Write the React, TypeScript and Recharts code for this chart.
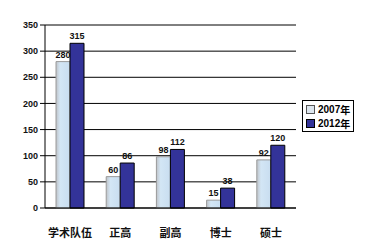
import React from 'react';
import { BarChart, Bar, XAxis, YAxis, CartesianGrid, LabelList } from 'recharts';

const categories = ['学术队伍', '正高', '副高', '博士', '硕士'];
const values2007 = [280, 60, 98, 15, 92];
const values2012 = [315, 86, 112, 38, 120];
const yTicks = [0, 50, 100, 150, 200, 250, 300, 350];
const boundaryTicks = [0, 1, 2, 3, 4, 5];

const data = categories.map((name, i) => ({
  name,
  y2007: values2007[i],
  y2012: values2012[i],
}));

const numFont = '"Liberation Sans", Arial, sans-serif';
const cjkFont = '"Noto Sans CJK SC", sans-serif';

function CategoryTick(props: any) {
  const { x, y, payload } = props;
  return (
    <text x={x} y={y + 21} textAnchor="middle" fontSize={11} fontWeight="bold" fontFamily={cjkFont} fill="#111">
      {payload.value}
    </text>
  );
}

// small upward tick marks between categories, like Excel draws them
function BoundaryTick(props: any) {
  const { x, y } = props;
  return <line x1={x} x2={x} y1={y} y2={y - 4} stroke="#000" strokeWidth={1} />;
}

function LegendBox() {
  const item = (label: string, fill: string, stroke: string) => (
    <div style={{ display: 'flex', alignItems: 'center', height: 14, whiteSpace: 'nowrap' }}>
      <span style={{ display: 'inline-block', width: 7, height: 7, background: fill, border: `1px solid ${stroke}`, marginRight: 3, flexShrink: 0 }} />
      <span style={{ fontFamily: numFont }}>{label.slice(0, 4)}</span>
      <span style={{ fontFamily: cjkFont, fontSize: 10 }}>{label.slice(4)}</span>
    </div>
  );
  return (
    <div
      style={{
        border: '1px solid #000',
        padding: '1px 3px',
        fontSize: 10,
        fontWeight: 'bold',
        background: '#fff',
        width: 44,
      }}
    >
      {item('2007年', '#dde6ee', '#555')}
      {item('2012年', '#333399', '#000')}
    </div>
  );
}

export default function App() {
  return (
    <div style={{ position: 'absolute', left: 0, top: 0, width: 370, height: 246, background: '#fff' }}>
      <BarChart
        width={370}
        height={246}
        data={data}
        margin={{ top: 25, right: 74, left: 0, bottom: 0 }}
        barSize={14}
        barGap={0}
      >
        <defs>
          <linearGradient id="lightBar" x1="0" y1="0" x2="1" y2="0">
            <stop offset="0%" stopColor="#bfc3c8" />
            <stop offset="30%" stopColor="#d3e6f5" />
            <stop offset="100%" stopColor="#c8ddf0" />
          </linearGradient>
        </defs>
        <CartesianGrid vertical={false} stroke="#000" />
        <XAxis
          xAxisId="cat"
          dataKey="name"
          height={38}
          axisLine={{ stroke: '#000' }}
          tickLine={false}
          tick={<CategoryTick />}
          interval={0}
        />
        <XAxis
          xAxisId="bound"
          type="number"
          domain={[0, 5]}
          ticks={boundaryTicks}
          interval={0}
          height={0}
          axisLine={false}
          tickLine={false}
          tickSize={0}
          tickMargin={0}
          tick={<BoundaryTick />}
        />
        <YAxis
          width={45}
          domain={[0, 350]}
          ticks={yTicks}
          interval={0}
          axisLine={{ stroke: '#000' }}
          tickLine={{ stroke: '#000' }}
          tickSize={5}
          tick={{ fontSize: 9, fontWeight: 'bold', fill: '#111', fontFamily: numFont }}
        />
        <YAxis yAxisId="right" orientation="right" width={0} domain={[0, 350]} tick={false} tickLine={false} axisLine={{ stroke: '#000' }} />
        <Bar xAxisId="cat" dataKey="y2007" fill="url(#lightBar)" stroke="#9a9a9a" strokeWidth={1} isAnimationActive={false}>
          <LabelList dataKey="y2007" position="top" offset={4} fontSize={9} fontWeight="bold" fill="#111" fontFamily={numFont} />
        </Bar>
        <Bar xAxisId="cat" dataKey="y2012" fill="#333399" stroke="#000" strokeWidth={1} isAnimationActive={false}>
          <LabelList dataKey="y2012" position="top" offset={4} fontSize={9} fontWeight="bold" fill="#111" fontFamily={numFont} />
        </Bar>
      </BarChart>
      <div style={{ position: 'absolute', left: 302, top: 100 }}>
        <LegendBox />
      </div>
    </div>
  );
}
